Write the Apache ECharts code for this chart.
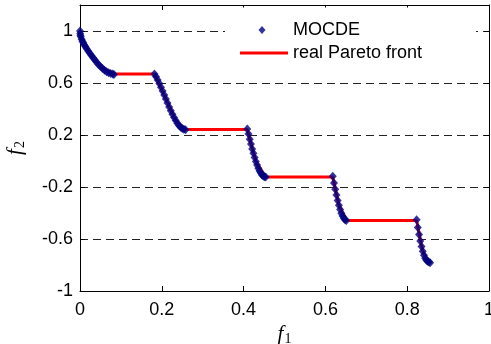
<!DOCTYPE html>
<html>
<head>
<meta charset="utf-8">
<script src="https://cdn.jsdelivr.net/npm/echarts@6/dist/echarts.min.js"></script>
<style>
  html, body { margin: 0; padding: 0; background: #fff; }
  #chart { width: 491px; height: 344px; }
</style>
</head>
<body>
<div id="chart"></div>
<script>
// MOCDE solutions (f1, f2)
const mocdeF1 = [
  0, 0.0005, 0.001, 0.002, 0.004, 0.006, 0.008, 0.01, 0.013, 0.016, 0.02, 0.024, 0.028,
  0.032, 0.036, 0.04, 0.045, 0.05, 0.055, 0.06, 0.065, 0.07, 0.075, 0.08, 0.083,
  0.182, 0.186, 0.19, 0.194, 0.198, 0.202, 0.206, 0.21, 0.214, 0.218, 0.222, 0.226,
  0.23, 0.234, 0.238, 0.242, 0.246, 0.25, 0.254, 0.258,
  0.409, 0.412, 0.415, 0.418, 0.421, 0.424, 0.427, 0.43, 0.433, 0.436, 0.439, 0.442,
  0.445, 0.448, 0.451, 0.454,
  0.618, 0.621, 0.624, 0.627, 0.63, 0.633, 0.636, 0.639, 0.642, 0.645, 0.648, 0.651,
  0.823, 0.826, 0.829, 0.832, 0.835, 0.838, 0.841, 0.844, 0.847, 0.85, 0.853, 0.856
];
const mocdeF2 = [
  1.0, 0.98, 0.968, 0.955, 0.936, 0.921, 0.909, 0.897, 0.881, 0.866, 0.847, 0.829, 0.811,
  0.794, 0.778, 0.762, 0.743, 0.726, 0.711, 0.698, 0.687, 0.679, 0.673, 0.67, 0.665,
  0.67, 0.648, 0.623, 0.596, 0.567, 0.538, 0.508, 0.477, 0.446, 0.416, 0.387, 0.36,
  0.334, 0.311, 0.291, 0.274, 0.26, 0.25, 0.244, 0.24,
  0.246, 0.207, 0.167, 0.13, 0.093, 0.059, 0.026, -0.004, -0.031, -0.055, -0.076, -0.093,
  -0.107, -0.116, -0.122, -0.124,
  -0.117, -0.169, -0.217, -0.262, -0.303, -0.34, -0.373, -0.401, -0.423, -0.44, -0.452, -0.458,
  -0.452, -0.511, -0.566, -0.615, -0.658, -0.695, -0.725, -0.748, -0.764, -0.772, -0.776, -0.782
];

// real Pareto front, drawn as one connected line
const frontF1 = [0, 0.005, 0.02, 0.05, 0.083, 0.182, 0.21, 0.234, 0.258, 0.409, 0.43, 0.454,
  0.618, 0.633, 0.652, 0.823, 0.838, 0.852];
const frontF2 = [1, 0.927, 0.847, 0.726, 0.67, 0.67, 0.477, 0.311, 0.242, 0.242, -0.004, -0.124,
  -0.124, -0.34, -0.458, -0.458, -0.695, -0.773];

const xTicks = [0, 0.2, 0.4, 0.6, 0.8, 1];
const yTicks = [-1, -0.6, -0.2, 0.2, 0.6, 1];

const chart = echarts.init(document.getElementById('chart'), null, { renderer: 'canvas' });

const tickFont = 'Liberation Sans, Arial, Helvetica, sans-serif';
const nameRich = {
  i: { fontFamily: 'Liberation Serif, Times New Roman, serif', fontStyle: 'italic', fontSize: 21, color: '#000' },
  s: { fontFamily: 'Liberation Serif, Times New Roman, serif', fontSize: 14, color: '#000', padding: [9, 0, 0, 1] }
};

const legendText = (padLeft) => ({
  fontFamily: tickFont, fontSize: 18, color: '#000', lineHeight: 18, padding: [7, 0, 0, padLeft]
});

const option = {
  animation: false,
  backgroundColor: '#fff',
  grid: { left: 80, right: 2, top: 5, bottom: 53, outerBoundsMode: 'none', containLabel: false },
  legend: [
    {
      orient: 'vertical',
      left: 225,
      top: 7.5,
      padding: [10, 116, 0, 33.5],
      backgroundColor: '#fff',
      icon: 'diamond',
      itemWidth: 7,
      itemHeight: 8,
      textStyle: legendText(22.5),
      data: ['MOCDE']
    },
    {
      orient: 'vertical',
      left: 225,
      top: 40.5,
      padding: [0, 51, 10, 15],
      backgroundColor: '#fff',
      icon: 'rect',
      itemWidth: 48,
      itemHeight: 3,
      textStyle: legendText(0),
      data: ['real Pareto front']
    }
  ],
  xAxis: [
    {
      type: 'value', min: 0, max: 1, interval: 0.2,
      name: '{i|f}{s|1}', nameLocation: 'middle', nameGap: 29,
      nameTextStyle: { rich: nameRich },
      axisLine: { onZero: false, lineStyle: { color: '#000', width: 1 } },
      axisTick: { inside: true, length: 5, lineStyle: { color: '#000' }, customValues: xTicks },
      axisLabel: { color: '#000', fontFamily: tickFont, fontSize: 18, margin: 10, customValues: xTicks,
        formatter: v => String(v) },
      splitLine: { show: false }
    },
    {
      type: 'value', position: 'top', min: 0, max: 1, interval: 0.2,
      axisLine: { show: true, onZero: false, lineStyle: { color: '#000', width: 1 } },
      axisTick: { inside: true, length: 5, lineStyle: { color: '#000' }, customValues: xTicks },
      axisLabel: { show: false },
      splitLine: { show: false }
    }
  ],
  yAxis: [
    {
      type: 'value', min: -1, max: 1.2,
      name: '{i|f}{s|2}', nameLocation: 'middle', nameGap: 53,
      nameTextStyle: { rich: nameRich },
      axisLine: { show: true, onZero: false, lineStyle: { color: '#000', width: 1 } },
      axisTick: { show: true, inside: true, length: 5, lineStyle: { color: '#000' }, customValues: yTicks },
      axisLabel: { color: '#000', fontFamily: tickFont, fontSize: 18, margin: 7, customValues: yTicks,
        formatter: v => String(v) },
      splitLine: { show: true, lineStyle: { color: '#222', width: 1, type: [8, 5] } }
    },
    {
      type: 'value', position: 'right', min: -1, max: 1.2,
      axisLine: { show: true, onZero: false, lineStyle: { color: '#000', width: 1 } },
      axisTick: { show: true, inside: true, length: 5, lineStyle: { color: '#000' }, customValues: yTicks },
      axisLabel: { show: false },
      splitLine: { show: false }
    }
  ],
  series: [
    {
      name: 'real Pareto front',
      type: 'line',
      xAxisIndex: 0, yAxisIndex: 0,
      data: frontF1.map((x, i) => [x, frontF2[i]]),
      symbol: 'none',
      lineStyle: { color: '#ff0000', width: 3 },
      itemStyle: { color: '#ff0000' },
      z: 3
    },
    {
      name: 'MOCDE',
      type: 'scatter',
      xAxisIndex: 0, yAxisIndex: 0,
      data: mocdeF1.map((x, i) => [x, mocdeF2[i]]),
      symbol: 'diamond',
      symbolSize: [8, 9],
      itemStyle: { color: '#000080' },
      z: 4
    }
  ]
};

chart.setOption(option);
window.addEventListener('resize', () => chart.resize());
</script>
</body>
</html>
